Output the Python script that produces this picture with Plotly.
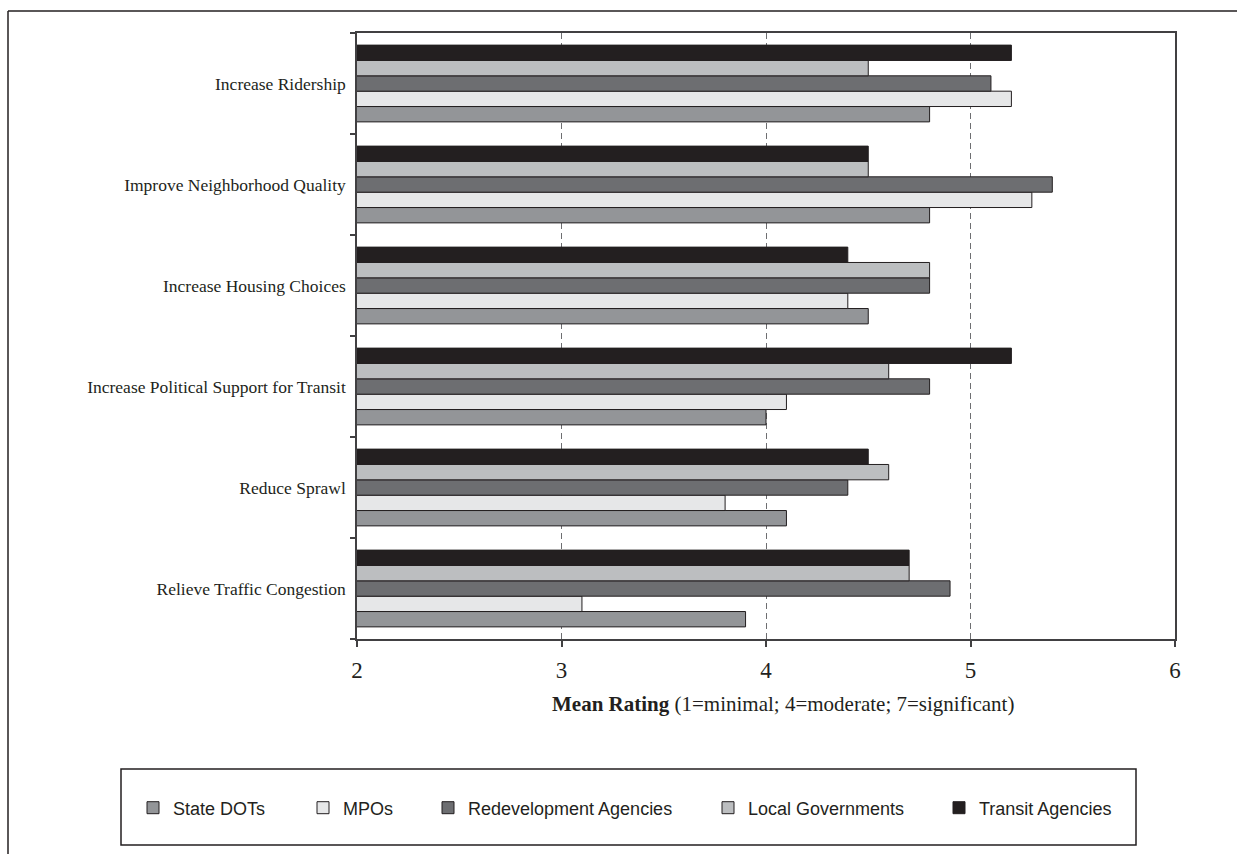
import plotly.graph_objects as go

categories = ["Relieve Traffic Congestion", "Reduce Sprawl", "Increase Political Support for Transit",
              "Increase Housing Choices", "Improve Neighborhood Quality", "Increase Ridership"]
series_names = ["State DOTs", "MPOs", "Redevelopment Agencies", "Local Governments", "Transit Agencies"]
state_dots = [3.9, 4.1, 4.0, 4.5, 4.8, 4.8]
mpos = [3.1, 3.8, 4.1, 4.4, 5.3, 5.2]
redevelopment = [4.9, 4.4, 4.8, 4.8, 5.4, 5.1]
local_gov = [4.7, 4.6, 4.6, 4.8, 4.5, 4.5]
transit = [4.7, 4.5, 5.2, 4.4, 4.5, 5.2]
x_ticks = [2, 3, 4, 5, 6]

series_values = [state_dots, mpos, redevelopment, local_gov, transit]
colors = ["#939598", "#e6e7e8", "#6d6e71", "#bcbec0", "#231f20"]
legend_ids = ["legend", "legend2", "legend3", "legend4", "legend5"]

W, H = 1237, 854
ML, MR, MT, MB = 357, W - 1175, 33, H - 639
PW, PH = W - ML - MR, H - MT - MB

def px(x):
    return (x - ML) / PW

def py(y):
    return (H - MB - y) / PH

fig = go.Figure()
for name, vals, col, lg in zip(series_names, series_values, colors, legend_ids):
    fig.add_trace(go.Bar(
        y=categories, x=vals, name=name, orientation="h",
        marker=dict(color=col, line=dict(color="#231f20", width=1)),
        legend=lg,
    ))

serif = "Liberation Serif, Times New Roman, serif"
sans = "Liberation Sans, Arial, sans-serif"

# legend icon centres in reference (pixels)
legend_px = [157, 327, 452, 732, 963]
layout_legends = {}
for lg, cx in zip(legend_ids, legend_px):
    layout_legends[lg] = dict(
        x=px(cx - 24), y=py(808), xanchor="left", yanchor="middle",
        orientation="h", bgcolor="rgba(0,0,0,0)", borderwidth=0,
        font=dict(family=sans, size=18, color="#231f20"),
        itemwidth=30,
    )

fig.update_layout(
    width=W, height=H,
    margin=dict(l=ML, r=MR, t=MT, b=MB),
    paper_bgcolor="white", plot_bgcolor="white",
    barmode="group", bargap=0.24, bargroupgap=0,
    showlegend=True,
    **layout_legends,
    xaxis=dict(
        range=[2, 6], tickvals=x_ticks, ticktext=[str(t) for t in x_ticks],
        showgrid=True, gridcolor="#6d6e71", griddash="6px,4px", gridwidth=1,
        showline=True, linecolor="#414042", linewidth=1.5, mirror=True,
        ticks="outside", ticklen=6, tickcolor="#414042", tickwidth=1.5,
        tickfont=dict(family=serif, size=23, color="#231f20"),
        ticklabelstandoff=4, zeroline=False,
    ),
    yaxis=dict(
        categoryorder="array", categoryarray=categories,
        showgrid=False, showline=True, linecolor="#414042", linewidth=1.5, mirror=True,
        ticks="outside", ticklen=5, tickcolor="#414042", tickwidth=1.5, tickson="boundaries",
        tickfont=dict(family=serif, size=17.5, color="#231f20"),
        ticklabelstandoff=6,
    ),
    annotations=[dict(
        x=px(783), y=py(704), xref="paper", yref="paper", xanchor="center", yanchor="middle",
        text="<b>Mean Rating</b> (1=minimal; 4=moderate; 7=significant)", showarrow=False,
        font=dict(family=serif, size=21, color="#231f20"),
    )],
    shapes=[
        dict(type="rect", xref="paper", yref="paper", x0=px(121), x1=px(1136), y0=py(845), y1=py(769),
             line=dict(color="#231f20", width=1.5), fillcolor="rgba(0,0,0,0)", layer="below"),
        dict(type="line", xref="paper", yref="paper", x0=px(8), x1=px(1240), y0=py(11), y1=py(11),
             line=dict(color="#231f20", width=1.5)),
        dict(type="line", xref="paper", yref="paper", x0=px(8), x1=px(8), y0=py(11), y1=py(860),
             line=dict(color="#231f20", width=1.5)),
    ],
)

fig.write_html("out.html")
